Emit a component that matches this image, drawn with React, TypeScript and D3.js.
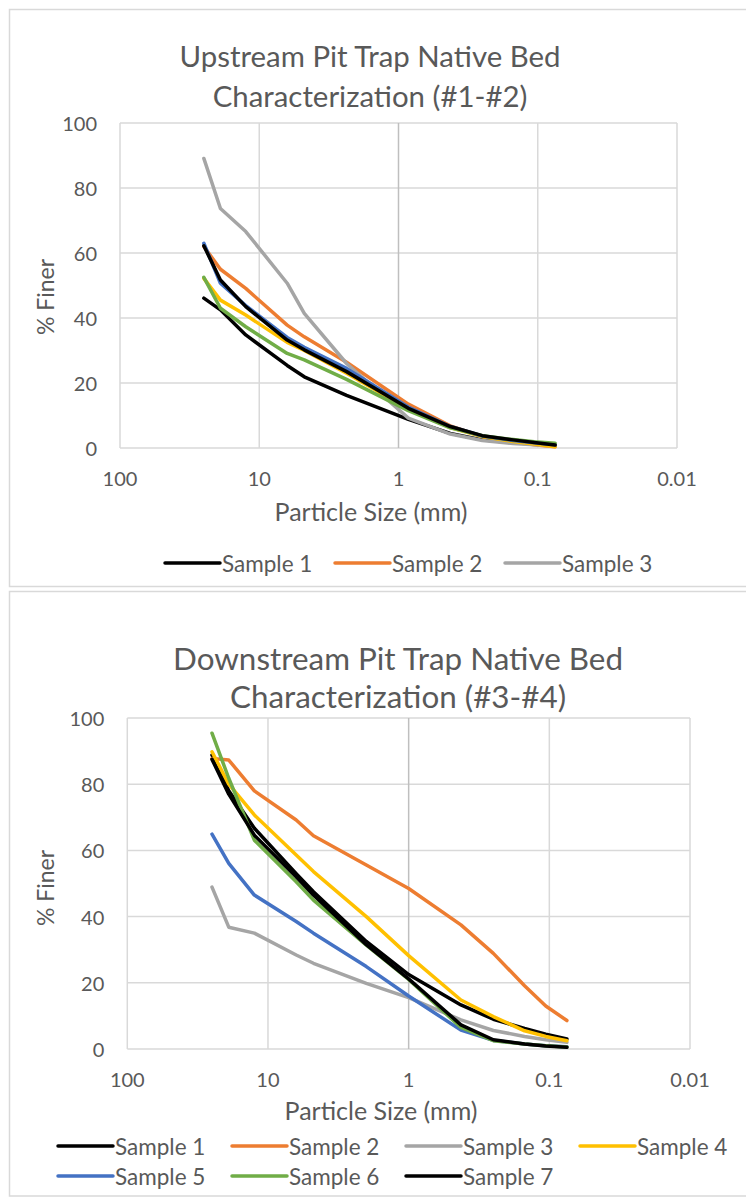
import * as d3 from 'd3';

// sieve sizes (mm) and % finer per sample
const upSizes = [25, 19, 12.5, 6.3, 4.75, 2.36, 0.85, 0.425, 0.25, 0.15, 0.106, 0.075];
const upSample1 = [46.1, 42.5, 34.8, 25.4, 21.9, 16.2, 8.8, 4.5, 2.5, 1.6, 1.2, 0.7];
const upSample2 = [62, 55, 49.1, 37.8, 34.2, 26.4, 13.5, 6.8, 3.5, 2, 1, 0.4];
const upSample3 = [89.1, 73.7, 66.6, 50.7, 41.4, 26, 9.2, 4.3, 2.3, 1.4, 1, 0.6];
const upSample4 = [52.2, 45.5, 40.9, 32.5, 30, 23, 12, 6.3, 3.5, 2, 1.2, 0.4];
const upSample5 = [63, 50.7, 43.8, 34, 31, 24.5, 12.6, 6.6, 3.7, 2.3, 1.6, 1];
const upSample6 = [52.5, 43, 37.3, 29.1, 27.1, 21.1, 11.5, 6.2, 3.8, 2.6, 1.9, 1.5];
const upSample7 = [62.2, 51.7, 43.5, 33.2, 30.2, 23.5, 12.2, 6.6, 3.8, 2.5, 1.7, 0.9];

const downSizes = [25, 19, 12.5, 6.3, 4.75, 2, 1, 0.425, 0.25, 0.15, 0.106, 0.075];
const downSample1 = [88.8, 78, 66.7, 53, 47.5, 32.5, 22.5, 13.3, 9, 6.2, 4.5, 3];
const downSample2 = [87.8, 87.3, 78, 69.2, 64.4, 55.6, 48.5, 37.5, 28.9, 19.1, 13, 8.6];
const downSample3 = [48.9, 36.8, 35, 28.4, 25.9, 19.8, 15.5, 8.8, 5.6, 3.8, 2.8, 2];
const downSample4 = [89.8, 80, 70.7, 58.6, 53.6, 40, 28.2, 14.8, 9.8, 5.5, 3.8, 2.5];
const downSample5 = [64.9, 56.1, 46.5, 38.5, 35, 24.9, 16, 5.7, 2.6, 1.5, 1, 0.7];
const downSample6 = [95.4, 81.8, 63.1, 50.5, 45, 31.4, 21, 6.5, 2.5, 1.5, 1, 0.6];
const downSample7 = [87.5, 77, 64.6, 52, 46.5, 31.5, 21.2, 7.3, 2.8, 1.5, 0.9, 0.5];

const sampleNames = ['Sample 1', 'Sample 2', 'Sample 3', 'Sample 4', 'Sample 5', 'Sample 6', 'Sample 7'];
const sampleColors = ['#000000', '#ED7D31', '#A5A5A5', '#FFC000', '#4472C4', '#70AD47', '#000000'];
const xTicks = [100, 10, 1, 0.1, 0.01];
const yTicks = [0, 20, 40, 60, 80, 100];

const FONT = 'Lato, "Open Sans", sans-serif';
const TXT = '#595959';

type Layout = {
  frameTop: number;
  frameBottom: number;
  left: number;
  right: number;
  top: number;
  bottom: number;
  titleX: number;
  titleY: [number, number];
  titleSize: number;
  axisTitleX: number;
  axisTitleY: number;
  yTitleY: number;
  legendX: number;
  legendY: number;
  legendStep: number;
  legendPerRow: number;
  legendCount: number;
};

const Chart = ({ sizes, series, title, lay }: { sizes: number[]; series: number[][]; title: [string, string]; lay: Layout }) => {
  const x = d3.scaleLog().domain([100, 0.01]).range([lay.left, lay.right]);
  const y = d3.scaleLinear().domain([0, 100]).range([lay.bottom, lay.top]);
  const line = d3.line<number>()
    .x((_, i) => x(sizes[i]))
    .y(v => y(v));

  return (
    <g>
      <rect x={9.5} y={lay.frameTop} width={760} height={lay.frameBottom - lay.frameTop}
        fill="#fff" stroke="#d9d9d9" strokeWidth={1.5} />
      {title.map((t, i) => (
        <text key={t} x={lay.titleX} y={lay.titleY[i]} textAnchor="middle" dominantBaseline="central"
          fontSize={lay.titleSize} fill={TXT}>{t}</text>
      ))}
      {yTicks.map(t => (
        <line key={'gy' + t} x1={lay.left} x2={lay.right} y1={y(t)} y2={y(t)} stroke="#d9d9d9" strokeWidth={1.5} />
      ))}
      {xTicks.map(t => (
        <line key={'gx' + t} x1={x(t)} x2={x(t)} y1={lay.top} y2={lay.bottom}
          stroke={t === 1 ? '#bfbfbf' : '#d9d9d9'} strokeWidth={1.5} />
      ))}
      {yTicks.map(t => (
        <text key={'ty' + t} x={lay.left - 23} y={y(t)} textAnchor="end" dominantBaseline="central"
          fontSize={20} fill={TXT}>{t}</text>
      ))}
      {xTicks.map(t => (
        <text key={'tx' + t} x={x(t)} y={lay.bottom + 30} textAnchor="middle" dominantBaseline="central"
          fontSize={20} fill={TXT}>{String(t)}</text>
      ))}
      <text x={lay.axisTitleX} y={lay.axisTitleY} textAnchor="middle" dominantBaseline="central"
        fontSize={25} fill={TXT}>Particle Size (mm)</text>
      <text transform={`translate(45,${lay.yTitleY}) rotate(-90)`} textAnchor="middle" dominantBaseline="central"
        fontSize={23} fill={TXT}>% Finer</text>
      {series.map((s, i) => (
        <path key={'s' + i} d={line(s) ?? ''} fill="none" stroke={sampleColors[i]} strokeWidth={3.5}
          strokeLinejoin="round" strokeLinecap="round" />
      ))}
      {sampleNames.slice(0, lay.legendCount).map((name, i) => {
        const lx = lay.legendX + (i % lay.legendPerRow) * lay.legendStep;
        const ly = lay.legendY + Math.floor(i / lay.legendPerRow) * 30;
        return (
          <g key={name}>
            <line x1={lx} x2={lx + 55} y1={ly} y2={ly} stroke={sampleColors[i]} strokeWidth={3.5} strokeLinecap="round" />
            <text x={lx + 57} y={ly} dominantBaseline="central" fontSize={22.5} fill={TXT}>{name}</text>
          </g>
        );
      })}
    </g>
  );
};

const upLayout: Layout = {
  frameTop: 9.5, frameBottom: 586.5,
  left: 120, right: 677, top: 123, bottom: 448,
  titleX: 370, titleY: [55, 95], titleSize: 29.4,
  axisTitleX: 371, axisTitleY: 511, yTitleY: 297,
  legendX: 165, legendY: 563, legendStep: 170, legendPerRow: 3, legendCount: 3,
};

const downLayout: Layout = {
  frameTop: 591.5, frameBottom: 1196,
  left: 127.3, right: 690, top: 718, bottom: 1049,
  titleX: 398, titleY: [658, 696], titleSize: 31.4,
  axisTitleX: 381, axisTitleY: 1110, yTitleY: 888,
  legendX: 58, legendY: 1146, legendStep: 174, legendPerRow: 4, legendCount: 7,
};

export default function App() {
  return (
    <div style={{ position: 'absolute', left: 0, top: 0 }}>
      <svg width={746} height={1201} style={{ display: 'block', fontFamily: FONT }}>
        <rect width={746} height={1201} fill="#fff" />
        <Chart sizes={upSizes} lay={upLayout}
          title={['Upstream Pit Trap Native Bed', 'Characterization (#1-#2)']}
          series={[upSample1, upSample2, upSample3, upSample4, upSample5, upSample6, upSample7]} />
        <Chart sizes={downSizes} lay={downLayout}
          title={['Downstream Pit Trap Native Bed', 'Characterization (#3-#4)']}
          series={[downSample1, downSample2, downSample3, downSample4, downSample5, downSample6, downSample7]} />
      </svg>
    </div>
  );
}
